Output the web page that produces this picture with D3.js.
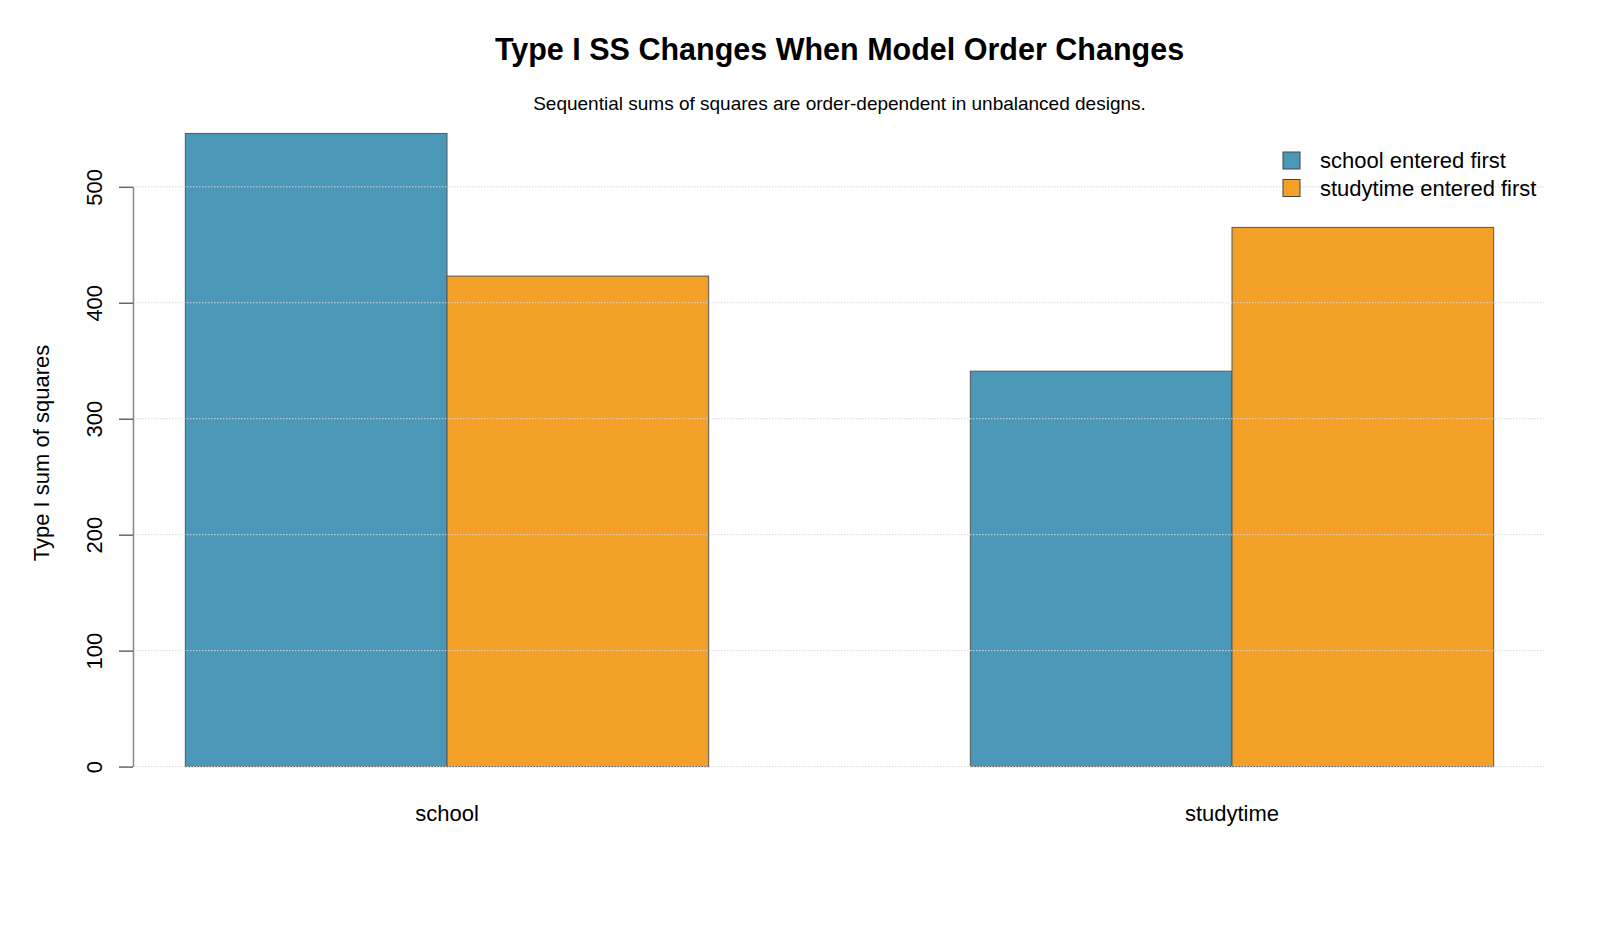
<!DOCTYPE html>
<html lang="en">
<head>
  <meta charset="utf-8">
  <script src="https://d3js.org/d3.v7.min.js"></script>
  <style>
    body { margin: 0; background: #fff; }
    svg { font-family: "Liberation Sans", Arial, sans-serif; display: block; }
  </style>
</head>
<body>
<script>
  // data
  const terms = ["school", "studytime"];
  const orders = ["school entered first", "studytime entered first"];
  const schoolFirst = [546, 341];
  const studytimeFirst = [423, 465];
  const yTicks = [0, 100, 200, 300, 400, 500];
  const colours = ["#4B97B8", "#F2A028"];

  const W = 1600, H = 933;
  const svg = d3.select("body").append("svg")
    .attr("width", W).attr("height", H);

  // bars sit in "bar units" like R's barplot(beside=TRUE)
  const x = d3.scaleLinear().domain([0.8, 6.2]).range([133, 1546]);
  const y = d3.scaleLinear().domain([0, 500]).range([766.6, 186.8]);

  const bars = [];
  terms.forEach((t, i) => {
    [schoolFirst[i], studytimeFirst[i]].forEach((v, j) => {
      bars.push({ term: t, series: j, value: v, x0: 1 + i * 3 + j });
    });
  });

  svg.append("g").selectAll("rect")
    .data(bars)
    .join("rect")
    .attr("x", d => x(d.x0))
    .attr("y", d => y(d.value))
    .attr("width", d => x(d.x0 + 1) - x(d.x0))
    .attr("height", d => y(0) - y(d.value))
    .attr("fill", d => colours[d.series])
    .attr("stroke", "#555")
    .attr("stroke-width", 1);

  // dotted grid over the bars
  svg.append("g").selectAll("line")
    .data(yTicks)
    .join("line")
    .attr("x1", x(0.8)).attr("x2", x(6.2))
    .attr("y1", d => y(d)).attr("y2", d => y(d))
    .attr("stroke", "#d8d8d8")
    .attr("stroke-width", 1)
    .attr("stroke-dasharray", "1.5 1.5");

  // y axis
  const yAxis = svg.append("g")
    .attr("transform", `translate(${x(0.8)},0)`)
    .call(d3.axisLeft(y).tickValues(yTicks).tickSize(14).tickSizeOuter(0).tickPadding(0).tickFormat(d3.format("d")));
  yAxis.select(".domain").attr("stroke", "#888").attr("stroke-width", 1.5);
  yAxis.selectAll(".tick line").attr("stroke", "#666").attr("stroke-width", 1.5);
  yAxis.selectAll(".tick text").remove();
  yAxis.selectAll(".tick").append("text")
    .attr("transform", "translate(-39,0) rotate(-90)")
    .attr("text-anchor", "middle")
    .attr("dy", "0.35em")
    .attr("fill", "#000")
    .style("font-size", "22px")
    .text(d => d);

  // category labels
  svg.append("g").selectAll("text")
    .data(terms)
    .join("text")
    .attr("x", (d, i) => x(2 + i * 3))
    .attr("y", 821)
    .attr("text-anchor", "middle")
    .style("font-size", "22px")
    .text(d => d);

  // y title
  svg.append("text")
    .attr("transform", "translate(41,453) rotate(-90)")
    .attr("text-anchor", "middle")
    .attr("dy", "0.35em")
    .style("font-size", "22px")
    .text("Type I sum of squares");

  // titles
  svg.append("text")
    .attr("x", 839.5).attr("y", 60)
    .attr("text-anchor", "middle")
    .style("font-size", "30.5px").style("font-weight", "bold")
    .text("Type I SS Changes When Model Order Changes");
  svg.append("text")
    .attr("x", 839.5).attr("y", 110)
    .attr("text-anchor", "middle")
    .style("font-size", "19px")
    .text("Sequential sums of squares are order-dependent in unbalanced designs.");

  // legend
  const leg = svg.append("g").selectAll("g")
    .data(orders)
    .join("g")
    .attr("transform", (d, i) => `translate(1283,${160.5 + i * 27.5})`);
  leg.append("rect")
    .attr("x", 0).attr("y", -8.5)
    .attr("width", 17).attr("height", 17)
    .attr("fill", (d, i) => colours[i])
    .attr("stroke", "#444");
  leg.append("text")
    .attr("x", 37).attr("dy", "0.35em")
    .style("font-size", "22px")
    .text(d => d);
</script>
</body>
</html>
